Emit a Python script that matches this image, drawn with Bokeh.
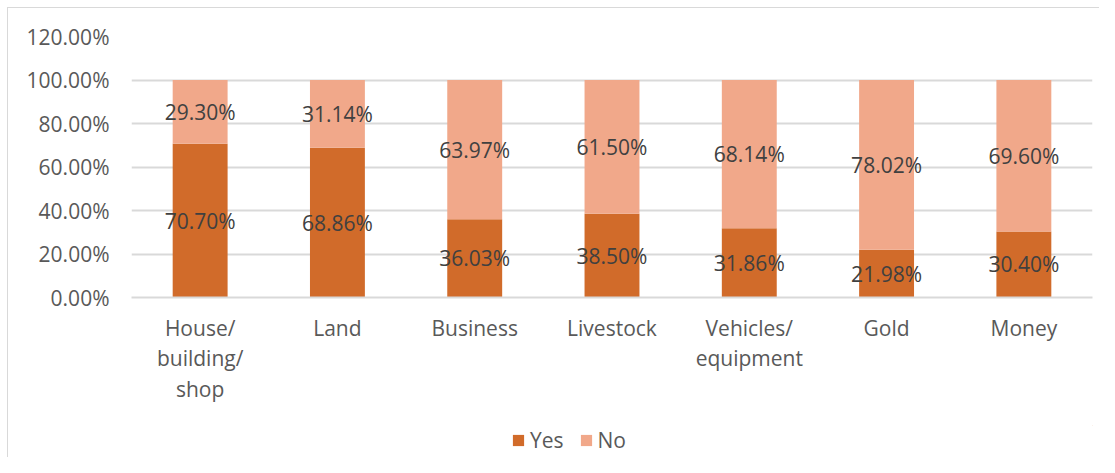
from bokeh.plotting import figure
from bokeh.layouts import column
from bokeh.models import (ColumnDataSource, FactorRange, Range1d, FixedTicker,
                          NumeralTickFormatter, Legend, LegendItem)
from bokeh.core.properties import value
from bokeh.embed import file_html
from bokeh.resources import INLINE

categories = ["House/\nbuilding/\nshop", "Land", "Business", "Livestock",
              "Vehicles/\nequipment", "Gold", "Money"]
yes_values = [0.7070, 0.6886, 0.3603, 0.3850, 0.3186, 0.2198, 0.3040]
no_values = [0.2930, 0.3114, 0.6397, 0.6150, 0.6814, 0.7802, 0.6960]
series_names = ["Yes", "No"]
y_ticks = [0.0, 0.2, 0.4, 0.6, 0.8, 1.0, 1.2]

YES_COLOR = "#D16B2A"
NO_COLOR = "#F1A88A"
FONT = "Open Sans"
FS = "21px"
BORDER = "#D9D9D9"

source = ColumnDataSource(dict(
    cat=categories,
    yes=yes_values,
    no=no_values,
    yes_mid=[y / 2 for y in yes_values],
    no_mid=[y + n / 2 for y, n in zip(yes_values, no_values)],
    yes_lbl=[f"{v*100:.2f}%" for v in yes_values],
    no_lbl=[f"{v*100:.2f}%" for v in no_values],
))

p = figure(x_range=FactorRange(*categories, range_padding=0),
           y_range=Range1d(0, 1.2),
           frame_width=961, frame_height=261,
           min_border_left=131, min_border_right=7,
           min_border_top=36, min_border_bottom=128,
           output_backend="svg", toolbar_location=None)

p.outline_line_color = None
p.background_fill_color = "white"
p.border_fill_alpha = 0
p.styles = {"background": (f"linear-gradient({BORDER},{BORDER}) 7px 7px / 100% 1px no-repeat, "
                           f"linear-gradient({BORDER},{BORDER}) 7px 7px / 1px 100% no-repeat, white")}

renderers = p.vbar_stack(["yes", "no"], x="cat", width=0.4,
                         color=[YES_COLOR, NO_COLOR], line_color=None,
                         source=source)

p.text(x="cat", y="yes_mid", text="yes_lbl", source=source,
       text_align="center", text_baseline="middle",
       text_font=value(FONT), text_font_size=FS, text_color="#404040")
p.text(x="cat", y="no_mid", text="no_lbl", source=source,
       text_align="center", text_baseline="middle",
       text_font=value(FONT), text_font_size=FS, text_color="#404040")

# y axis
p.yaxis.ticker = FixedTicker(ticks=y_ticks)
p.yaxis.formatter = NumeralTickFormatter(format="0.00%")
p.yaxis.axis_line_color = None
p.yaxis.major_tick_line_color = None
p.yaxis.minor_tick_line_color = None
p.yaxis.major_tick_out = 0
p.yaxis.major_label_standoff = 22
p.yaxis.major_label_text_font = FONT
p.yaxis.major_label_text_font_size = FS
p.yaxis.major_label_text_color = "#595959"

# x axis
p.xaxis.axis_line_color = BORDER
p.xaxis.axis_line_width = 2
p.xaxis.major_tick_line_color = None
p.xaxis.major_tick_out = 0
p.xaxis.major_label_standoff = 16
p.xaxis.major_label_text_font = FONT
p.xaxis.major_label_text_font_size = FS
p.xaxis.major_label_text_color = "#595959"
p.xaxis.major_label_text_line_height = 1.1

p.xgrid.grid_line_color = None
p.ygrid.grid_line_color = BORDER
p.ygrid.grid_line_width = 2

# legend strip below the chart (its frame aligns with the chart's frame)
lf = figure(width=1099, height=32, x_range=(0, 1), y_range=(0, 1),
            min_border=0, x_axis_location=None, y_axis_location=None,
            output_backend="svg", toolbar_location=None)
lf.outline_line_color = None
lf.grid.grid_line_color = None
lf.border_fill_alpha = 0
lf.background_fill_alpha = 0
lf.styles = {"background": f"linear-gradient({BORDER},{BORDER}) 7px 0px / 1px 100% no-repeat, white"}
# swatch renderers kept outside the visible range; they only feed the legend
r_yes = lf.vbar(x=[10], top=[10], bottom=[9], width=0.4, color=YES_COLOR, line_color=None)
r_no = lf.vbar(x=[10], top=[10], bottom=[9], width=0.4, color=NO_COLOR, line_color=None)

legend = Legend(items=[LegendItem(label=series_names[0], renderers=[r_yes]),
                       LegendItem(label=series_names[1], renderers=[r_no])],
                orientation="horizontal", location=(380, 3))
legend.border_line_color = None
legend.background_fill_alpha = 0
legend.padding = 0
legend.margin = 0
legend.spacing = 15
legend.glyph_width = 14
legend.glyph_height = 14
legend.label_standoff = 5
legend.label_text_font = FONT
legend.label_text_font_size = FS
legend.label_text_color = "#595959"
lf.add_layout(legend, "center")

layout = column(p, lf, spacing=0)
open("out.html", "w").write(file_html(layout, INLINE))
